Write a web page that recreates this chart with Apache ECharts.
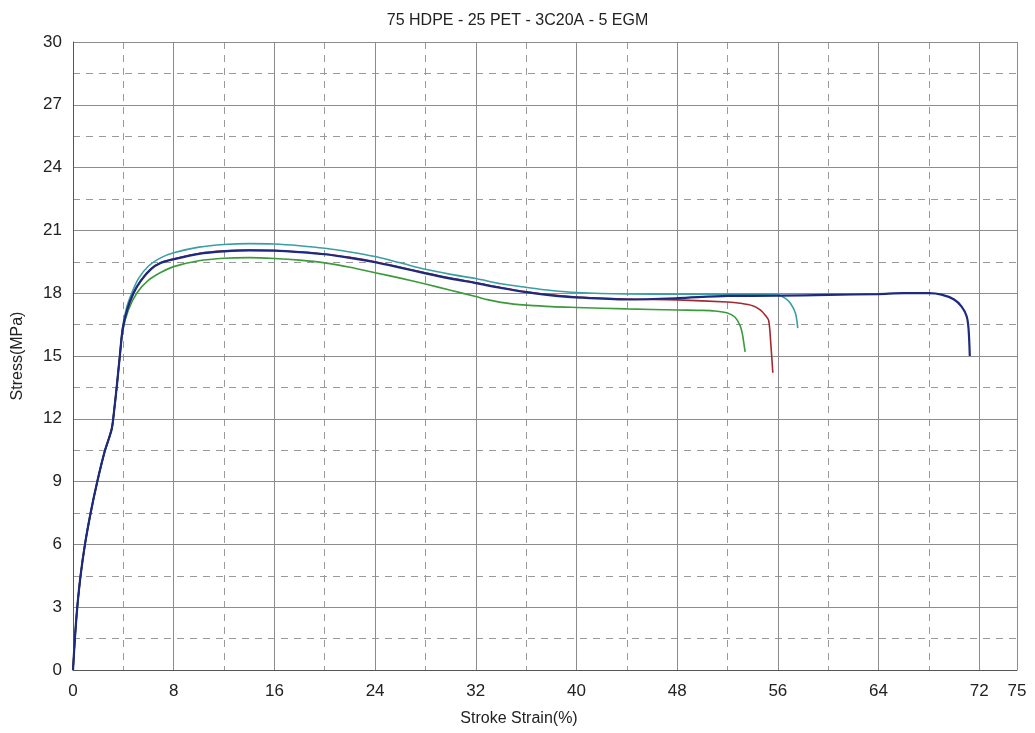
<!DOCTYPE html>
<html>
<head>
<meta charset="utf-8">
<script src="https://cdn.jsdelivr.net/npm/echarts@6/dist/echarts.min.js"></script>
<style>
html,body{margin:0;padding:0;background:#fff;}
#chart{width:1035px;height:733px;}
</style>
</head>
<body>
<div id="chart"></div>
<script>
const titleText = '75 HDPE - 25 PET - 3C20A - 5 EGM';
const xName = 'Stroke Strain(%)';
const yName = 'Stress(MPa)';

// shared elastic start (strain %, stress MPa)
const startPart = [[0,0],[0.15,1.5],[0.34,3],[0.6,4.5],[0.95,6],[1.4,7.5],[1.93,9],[2.5,10.4],[3.07,11.5],[3.25,12.3],[3.47,13.5],[3.72,15]];

const navyPts = [[3.95,16.3],[4.3,17.2],[4.8,18.0],[5.4,18.6],[6.2,19.15],[7,19.45],[8,19.62],[10,19.88],[12,20.0],[14,20.05],[16,20.03],[18,19.96],[20,19.86],[22,19.69],[24,19.48],[26,19.22],[28,18.95],[30,18.7],[32,18.48],[34,18.25],[36,18.05],[38,17.9],[40,17.8],[44,17.7],[48,17.76],[52,17.87],[56,17.88],[60,17.92],[64,17.96],[66,18.0],[68,18.0],[69,17.93],[70,17.7],[70.6,17.36],[71,16.9],[71.15,16.3],[71.25,15.0]];
const tealPts = [[3.95,16.4],[4.25,17.3],[4.66,18.0],[5.2,18.7],[6,19.3],[7,19.7],[8,19.93],[10,20.2],[12,20.33],[14,20.37],[16,20.35],[18,20.27],[20,20.15],[22,19.97],[24,19.75],[26,19.45],[28,19.14],[30,18.9],[32,18.7],[34,18.45],[36,18.28],[38,18.13],[40,18.03],[44,17.96],[48,17.95],[52,17.95],[55,17.95],[56,17.92],[56.6,17.75],[57,17.52],[57.4,17.04],[57.58,16.33]];
const redPts = [[3.95,16.3],[4.3,17.2],[4.8,18.0],[5.4,18.62],[6.2,19.17],[7,19.47],[8,19.64],[10,19.9],[12,20.02],[14,20.06],[16,20.04],[18,19.97],[20,19.87],[22,19.71],[24,19.5],[26,19.24],[28,18.97],[30,18.72],[32,18.5],[34,18.27],[36,18.07],[38,17.92],[40,17.82],[44,17.72],[48,17.68],[52,17.58],[53,17.52],[54,17.4],[54.6,17.2],[55.0,16.95],[55.27,16.7],[55.45,15.5],[55.6,14.2]];
const greenPts = [[3.95,16.2],[4.4,17.2],[5.06,18.0],[6,18.62],[7,19.0],[8,19.27],[10,19.55],[12,19.67],[14,19.7],[16,19.66],[18,19.58],[20,19.45],[22,19.24],[24,18.98],[26,18.72],[28,18.44],[30,18.14],[32,17.84],[33,17.68],[34,17.56],[35,17.48],[36,17.43],[38,17.36],[40,17.32],[44,17.25],[48,17.2],[50,17.18],[51,17.15],[52,17.05],[52.6,16.85],[53.0,16.45],[53.2,16.0],[53.3,15.6],[53.4,15.2]];

const seriesNames = ['teal','green','red','navy'];
const seriesColors = ['#3a9ea3','#3c9a3c','#a3292e','#1c2a80'];
const seriesData = [tealPts, greenPts, redPts, navyPts];

const chart = echarts.init(document.getElementById('chart'), null, {renderer:'canvas'});
const font = '"Liberation Sans", Arial, sans-serif';
const option = {
  animation:false,
  backgroundColor:'#fff',
  title:{text:titleText,left:'center',top:8,textStyle:{fontFamily:font,fontSize:16,fontWeight:'normal',color:'#222'}},
  grid:{left:73,right:18,top:42,bottom:63},
  xAxis:[{
    type:'value',min:0,max:75,interval:8,z:2,
    name:xName,nameLocation:'middle',nameGap:41,
    nameTextStyle:{fontFamily:font,fontSize:16,color:'#222',padding:[0,52,0,0]},
    axisLine:{show:true,lineStyle:{color:'#555',width:1}},
    axisTick:{show:false},
    axisLabel:{fontFamily:font,fontSize:17,color:'#222',margin:13,showMaxLabel:true,showMinLabel:true,hideOverlap:false},
    splitLine:{show:true,lineStyle:{color:'#8c8c8c',width:1}}
  },{
    type:'value',min:0,max:75,interval:4,z:1,gridIndex:0,position:'bottom',
    axisLine:{show:false},axisTick:{show:false},axisLabel:{show:false},
    splitLine:{show:true,lineStyle:{color:'#9a9a9a',width:1,type:[7,6]}}
  }],
  yAxis:[{
    type:'value',min:0,max:30,interval:3,z:2,
    name:yName,nameLocation:'middle',nameGap:47,
    nameTextStyle:{fontFamily:font,fontSize:16,color:'#222'},
    axisLine:{show:true,lineStyle:{color:'#555',width:1}},
    axisTick:{show:false},
    axisLabel:{fontFamily:font,fontSize:17,color:'#222',margin:11},
    splitLine:{show:true,lineStyle:{color:'#8c8c8c',width:1}}
  },{
    type:'value',min:0,max:30,interval:1.5,z:1,gridIndex:0,position:'left',
    axisLine:{show:false},axisTick:{show:false},axisLabel:{show:false},
    splitLine:{show:true,lineStyle:{color:'#9a9a9a',width:1,type:[7,6]}}
  }],
  series: seriesData.map((pts,i)=>({
    name:seriesNames[i],type:'line',xAxisIndex:0,yAxisIndex:0,z:3+i,
    data:startPart.concat(pts),
    showSymbol:false,symbol:'none',smooth:0.3,
    lineStyle:{color:seriesColors[i],width:i===3?2.2:1.6}
  }))
};
chart.setOption(option);
</script>
</body>
</html>
